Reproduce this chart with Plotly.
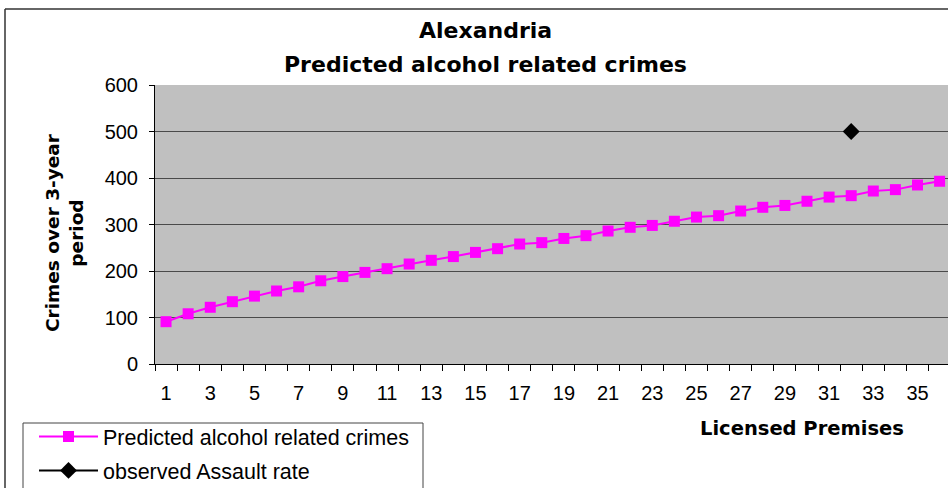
import plotly.graph_objects as go

premises = list(range(1, 37))
predicted = [91, 108, 122, 134, 146, 157, 166, 179, 188, 197, 205, 215,
             223, 231, 240, 248, 258, 261, 270, 276, 286, 294, 298, 307,
             316, 319, 329, 337, 341, 350, 359, 362, 372, 375, 385, 393]
observed_x = [32]
observed_y = [500]
x_ticks = list(range(1, 37, 2))
y_ticks = [0, 100, 200, 300, 400, 500, 600]

FONT = "Arial, Liberation Sans, sans-serif"
BOLD = "DejaVu Sans, Arial, sans-serif"

# plot area in pixels: left 155, right 948, top 85, bottom 364
def px_x(p):
    return (p - 155) / 793

def px_y(p):
    return (364 - p) / 279

fig = go.Figure()
fig.add_trace(go.Scatter(
    x=premises, y=predicted, mode="lines+markers",
    name="Predicted alcohol related crimes", legendgroup="a",
    line=dict(color="#FF00FF", width=2),
    marker=dict(symbol="square", size=11, color="#FF00FF"),
))
fig.add_trace(go.Scatter(
    x=observed_x, y=observed_y, mode="lines+markers",
    name="observed Assault rate", legendgroup="b",
    line=dict(color="black", width=2),
    marker=dict(symbol="diamond", size=13, color="black"),
))

fig.update_layout(
    width=948, height=488,
    margin=dict(l=155, r=0, t=85, b=124, autoexpand=False),
    paper_bgcolor="white",
    plot_bgcolor="#C0C0C0",
    font=dict(family=FONT, size=20, color="black"),
    showlegend=True,
    legend=dict(
        x=px_x(34), y=px_y(416), xanchor="left", yanchor="top",
        bgcolor="rgba(0,0,0,0)", borderwidth=0,
        font=dict(size=21.5), itemwidth=59, tracegroupgap=3,
    ),
)

fig.update_xaxes(
    range=[0.5, 36.38], tickvals=x_ticks, ticktext=[str(v) for v in x_ticks],
    ticks="outside", ticklen=6, tickcolor="rgba(0,0,0,0)",
    ticklabelstandoff=5,
    minor=dict(tick0=0.5, dtick=1, ticks="outside", ticklen=6, tickcolor="black"),
    showline=True, linecolor="black", linewidth=1,
    showgrid=False, zeroline=False,
    tickfont=dict(size=20),
)
fig.update_yaxes(
    range=[0, 600], tickvals=y_ticks,
    ticks="outside", ticklen=5, tickcolor="black",
    ticklabelstandoff=7,
    showline=True, linecolor="black", linewidth=1,
    showgrid=True, gridcolor="#4a4a4a", gridwidth=1.2,
    zeroline=False, tickfont=dict(size=20),
)

# titles
fig.add_annotation(text="<b>Alexandria</b>", xref="paper", yref="paper",
                   x=px_x(485), y=px_y(30), showarrow=False,
                   font=dict(family=BOLD, size=22), xanchor="center", yanchor="middle")
fig.add_annotation(text="<b>Predicted alcohol related crimes</b>", xref="paper", yref="paper",
                   x=px_x(485), y=px_y(64), showarrow=False,
                   font=dict(family=BOLD, size=22), xanchor="center", yanchor="middle")
fig.add_annotation(text="<b>Crimes over 3-year<br>period</b>", xref="paper", yref="paper",
                   x=px_x(64), y=px_y(233), showarrow=False,
                   textangle=-90, font=dict(family=BOLD, size=18.5), xanchor="center", yanchor="middle")
fig.add_annotation(text="<b>Licensed Premises</b>", xref="paper", yref="paper",
                   x=px_x(802), y=px_y(428), showarrow=False,
                   font=dict(family=BOLD, size=19.5), xanchor="center", yanchor="middle")

# outer chart border (left and top edges visible)
fig.add_shape(type="line", xref="paper", yref="paper",
              x0=px_x(5), x1=px_x(5), y0=px_y(9), y1=px_y(500),
              line=dict(color="#333333", width=1.5))
fig.add_shape(type="line", xref="paper", yref="paper",
              x0=px_x(5), x1=1.05, y0=px_y(9), y1=px_y(9),
              line=dict(color="#333333", width=1.5))
# legend frame
fig.add_shape(type="rect", xref="paper", yref="paper",
              x0=px_x(23), x1=px_x(423), y0=px_y(423), y1=px_y(520),
              line=dict(color="#444444", width=1))

fig.write_html("out.html", config={"displayModeBar": False},
               post_script="document.body.style.margin='0';")
